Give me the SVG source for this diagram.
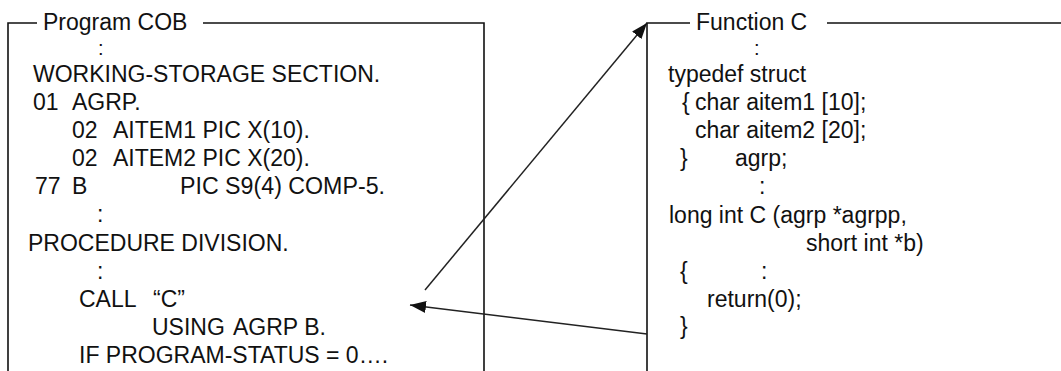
<svg xmlns="http://www.w3.org/2000/svg" width="1061" height="371" viewBox="0 0 1061 371">
<style>
  text { font-family: "Liberation Sans", Arial, sans-serif; font-size: 23px; fill: #111; }
  text.dots { font-size: 20px; }
  .frame { fill: none; stroke: #111; stroke-width: 1.6; }
  .conn { fill: none; stroke: #222; stroke-width: 1.5; }
</style>
<defs>
  <marker id="arrow" markerUnits="userSpaceOnUse" viewBox="0 0 16 12" refX="16" refY="6" markerWidth="16" markerHeight="12" orient="auto">
    <path d="M0,0 L16,6 L0,12 z" fill="#111"/>
  </marker>
</defs>
<rect width="1061" height="371" fill="#fff"/>

<g id="program-cob">
  <path class="frame" d="M8,371 V23 H37 M203,23 H484 V371"/>
  <text x="43" y="30">Program COB</text>
  <text class="dots" x="98" y="55">:</text>
  <text x="33" y="82">WORKING-STORAGE SECTION.</text>
  <text x="33" y="110">01</text><text x="72" y="110">AGRP.</text>
  <text x="72" y="138">02</text><text x="113" y="138">AITEM1 PIC X(10).</text>
  <text x="72" y="166">02</text><text x="113" y="166">AITEM2 PIC X(20).</text>
  <text x="35" y="194">77</text><text x="72" y="194">B</text>
  <text x="180" y="194" textLength="205" lengthAdjust="spacingAndGlyphs">PIC S9(4) COMP-5.</text>
  <text x="97" y="222">:</text>
  <text x="28" y="251">PROCEDURE DIVISION.</text>
  <text x="97" y="279">:</text>
  <text x="79" y="307">CALL</text><text x="153" y="307">“C”</text>
  <text x="152" y="335">USING</text><text x="233" y="335">AGRP B.</text>
  <text x="79" y="363">IF PROGRAM-STATUS = 0….</text>
</g>

<g id="function-c">
  <path class="frame" d="M647,371 V23 H690 M827,23 H1061"/>
  <text x="696" y="30">Function C</text>
  <text class="dots" x="754" y="55">:</text>
  <text x="668" y="82">typedef struct</text>
  <text x="682" y="110">{</text><text x="695" y="110">char aitem1 [10];</text>
  <text x="695" y="138">char aitem2 [20];</text>
  <text x="680" y="166">}</text><text x="735" y="166">agrp;</text>
  <text x="759" y="194">:</text>
  <text x="669" y="223">long int C (agrp *agrpp,</text>
  <text x="806" y="251">short int *b)</text>
  <text x="680" y="279">{</text><text x="761" y="279">:</text>
  <text x="707" y="307">return(0);</text>
  <text x="680" y="334">}</text>
</g>

<g id="connectors">
  <line class="conn" x1="425" y1="290" x2="647" y2="23" marker-end="url(#arrow)"/>
  <line class="conn" x1="647" y1="334" x2="410" y2="305" marker-end="url(#arrow)"/>
</g>
</svg>
